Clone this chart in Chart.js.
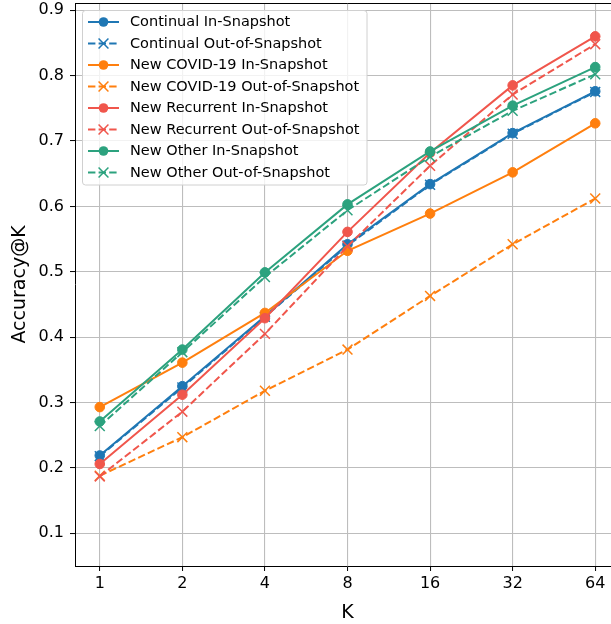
<!DOCTYPE html>
<html><head><meta charset="utf-8">
<script src="https://cdn.jsdelivr.net/npm/chart.js@4/dist/chart.umd.min.js"></script>
<style>html,body{margin:0;padding:0;background:#fff;overflow:hidden}canvas{display:block}</style>
</head><body><canvas id="c" width="621" height="624"></canvas>
<script>
// ---- data ----
const kValues = [1, 2, 4, 8, 16, 32, 64];
const yTicks = [0.1, 0.2, 0.3, 0.4, 0.5, 0.6, 0.7, 0.8, 0.9];
const seriesNames = [
  'Continual In-Snapshot', 'Continual Out-of-Snapshot',
  'New COVID-19 In-Snapshot', 'New COVID-19 Out-of-Snapshot',
  'New Recurrent In-Snapshot', 'New Recurrent Out-of-Snapshot',
  'New Other In-Snapshot', 'New Other Out-of-Snapshot'
];
const continualIn  = [0.219, 0.325, 0.432, 0.542, 0.634, 0.712, 0.776];
const continualOut = [0.218, 0.323, 0.431, 0.540, 0.633, 0.711, 0.775];
const covidIn      = [0.293, 0.361, 0.437, 0.532, 0.589, 0.652, 0.727];
const covidOut     = [0.188, 0.247, 0.318, 0.381, 0.463, 0.542, 0.612];
const recurrentIn  = [0.206, 0.312, 0.429, 0.561, 0.682, 0.785, 0.860];
const recurrentOut = [0.187, 0.286, 0.405, 0.539, 0.662, 0.771, 0.848];
const otherIn      = [0.271, 0.381, 0.499, 0.603, 0.684, 0.754, 0.813];
const otherOut     = [0.264, 0.377, 0.492, 0.594, 0.676, 0.746, 0.802];
const seriesValues = [continualIn, continualOut, covidIn, covidOut, recurrentIn, recurrentOut, otherIn, otherOut];
const colors = ['#1f77b4', '#1f77b4', '#ff7f0e', '#ff7f0e', '#f0564c', '#f0564c', '#2ca27e', '#2ca27e'];

const FONT = "'DejaVu Sans', sans-serif";
const DASH = [7.4, 3.2];
const GRID = '#bdbdbd';

const datasets = seriesValues.map((vals, i) => {
  const isOut = i % 2 === 1;
  return {
    label: seriesNames[i],
    data: vals.map((v, j) => ({ x: Math.log2(kValues[j]), y: v })),
    borderColor: colors[i],
    backgroundColor: colors[i],
    borderWidth: 2,
    borderDash: isOut ? DASH : [],
    pointStyle: isOut ? 'crossRot' : 'circle',
    pointRadius: isOut ? 7 : 4.8,
    pointBorderWidth: isOut ? 1.5 : 1,
    pointBackgroundColor: colors[i],
    pointBorderColor: colors[i],
    tension: 0,
    clip: false,
    order: seriesValues.length - i
  };
});

const legendPlugin = {
  id: 'mplLegend',
  afterDraw(chart) {
    const ctx = chart.ctx;
    const a = chart.chartArea;
    ctx.save();
    // top and right spines
    ctx.strokeStyle = '#000';
    ctx.lineWidth = 1;
    ctx.beginPath();
    ctx.moveTo(a.left, a.top + 0.5);
    ctx.lineTo(a.right, a.top + 0.5);
    ctx.moveTo(a.right - 0.5, a.top);
    ctx.lineTo(a.right - 0.5, a.bottom);
    ctx.stroke();
    // legend box
    const bx = 82.5, by = 10.5, bw = 284.5, bh = 174.5, r = 3;
    ctx.beginPath();
    ctx.moveTo(bx + r, by);
    ctx.arcTo(bx + bw, by, bx + bw, by + bh, r);
    ctx.arcTo(bx + bw, by + bh, bx, by + bh, r);
    ctx.arcTo(bx, by + bh, bx, by, r);
    ctx.arcTo(bx, by, bx + bw, by, r);
    ctx.closePath();
    ctx.fillStyle = 'rgba(255,255,255,0.8)';
    ctx.fill();
    ctx.strokeStyle = '#d0d0d0';
    ctx.stroke();
    chart.data.datasets.forEach((ds, i) => {
      const y = 22 + i * 21.5;
      ctx.strokeStyle = ds.borderColor;
      ctx.lineWidth = 2;
      ctx.setLineDash(ds.borderDash);
      ctx.beginPath();
      ctx.moveTo(88, y);
      ctx.lineTo(119, y);
      ctx.stroke();
      ctx.setLineDash([]);
      ctx.fillStyle = ds.borderColor;
      ctx.strokeStyle = ds.borderColor;
      ctx.lineWidth = ds.pointBorderWidth;
      ctx.beginPath();
      if (ds.pointStyle === 'circle') {
        ctx.arc(103.5, y, ds.pointRadius, 0, Math.PI * 2);
        ctx.fill();
      } else {
        const d = ds.pointRadius * Math.SQRT1_2;
        ctx.moveTo(103.5 - d, y - d); ctx.lineTo(103.5 + d, y + d);
        ctx.moveTo(103.5 - d, y + d); ctx.lineTo(103.5 + d, y - d);
        ctx.stroke();
      }
      ctx.fillStyle = '#000';
      ctx.font = '14.5px ' + FONT;
      ctx.textBaseline = 'middle';
      ctx.textAlign = 'left';
      ctx.fillText(ds.label, 130, y + 0.5);
    });
    ctx.restore();
  }
};

new Chart(document.getElementById('c'), {
  type: 'line',
  data: { datasets },
  options: {
    responsive: false,
    maintainAspectRatio: false,
    animation: false,
    devicePixelRatio: 1,
    layout: { autoPadding: false, padding: { top: 3, right: 1, left: 0, bottom: 0 } },
    plugins: { legend: { display: false }, tooltip: { enabled: false } },
    scales: {
      x: {
        type: 'linear',
        min: -0.3,
        max: 6.3,
        afterBuildTicks: s => { s.ticks = kValues.map(k => ({ value: Math.log2(k) })); },
        afterFit: s => { s.height = 58; s.paddingLeft = 0; s.paddingRight = 0; },
        ticks: {
          callback: v => String(Math.round(Math.pow(2, v))),
          font: { family: FONT, size: 16 },
          color: '#000',
          padding: 3,
          maxRotation: 0,
          autoSkip: false
        },
        grid: { color: GRID, lineWidth: 1.1, tickLength: 5, tickColor: '#000', tickWidth: 1 },
        border: { color: '#000', width: 1 },
        title: { display: true, text: 'K', font: { family: FONT, size: 19 }, color: '#000', padding: { top: 1, bottom: 0 } }
      },
      y: {
        min: 0.05,
        max: 0.911,
        afterBuildTicks: s => { s.ticks = yTicks.map(v => ({ value: v })); },
        afterFit: s => { s.width = 75; s.paddingTop = 0; s.paddingBottom = 0; },
        ticks: {
          callback: v => v.toFixed(1),
          font: { family: FONT, size: 16 },
          color: '#000',
          padding: 6
        },
        grid: { color: GRID, lineWidth: 1.1, tickLength: 5, tickColor: '#000', tickWidth: 1 },
        border: { color: '#000', width: 1 },
        title: { display: true, text: 'Accuracy@K', font: { family: FONT, size: 19 }, color: '#000', padding: { top: 9, bottom: 0 } }
      }
    }
  },
  plugins: [legendPlugin]
});
</script>
</body></html>
